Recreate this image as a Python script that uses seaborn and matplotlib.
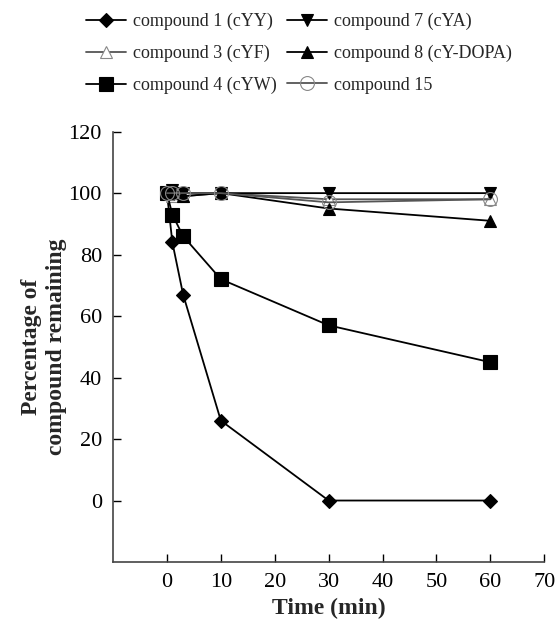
import pandas as pd
import matplotlib.pyplot as plt
import seaborn as sns

# Stability data
time_min = [0, 1, 3, 10, 30, 60]
cpd1_cyy = [100, 84, 67, 26, 0, 0]
cpd3_cyf = [100, 99, 99, 100, 98, 98]
cpd4_cyw = [100, 93, 86, 72, 57, 45]
cpd7_cya = [100, 101, 100, 100, 100, 100]
cpd8_dopa = [100, 100, 99, 100, 95, 91]
cpd15 = [100, 100, 100, 100, 97, 98]

labels = ["compound 1 (cYY)", "compound 3 (cYF)", "compound 4 (cYW)",
          "compound 7 (cYA)", "compound 8 (cY-DOPA)", "compound 15"]
series = [cpd1_cyy, cpd3_cyf, cpd4_cyw, cpd7_cya, cpd8_dopa, cpd15]

# marker, size, face, edge, line colour
styles = [
    ("D", 7, "black", "black", "black"),
    ("^", 8, "white", "#888888", "#555555"),
    ("s", 10, "black", "black", "black"),
    ("v", 9, "black", "black", "black"),
    ("^", 9, "black", "black", "black"),
    ("o", 10, "none", "#888888", "#555555"),
]

sns.set_theme(style="white")
plt.rcParams["font.family"] = ["Liberation Serif", "DejaVu Serif"]

fig = plt.figure(figsize=(5.57, 6.21), dpi=100)
ax = fig.add_axes([0.203, 0.095, 0.774, 0.693])

for lab, vals, (mk, ms, fc, ec, lc) in zip(labels, series, styles):
    df = pd.DataFrame({"t": time_min, "pct": vals})
    sns.lineplot(data=df, x="t", y="pct", ax=ax, label=lab, color=lc,
                 marker=mk, markersize=ms, markerfacecolor=fc,
                 markeredgecolor=ec, markeredgewidth=0.8, linewidth=1.3)

ax.set_xlim(-10, 70)
ax.set_ylim(-20, 120)
ax.set_xticks(range(0, 71, 10))
ax.set_yticks(range(0, 121, 20))
ax.tick_params(direction="in", length=6, width=1, labelsize=16, colors="black",
               left=True, bottom=True, pad=8)
ax.tick_params(axis="x", pad=8)
for s in ["top", "right"]:
    ax.spines[s].set_visible(False)
for s in ["left", "bottom"]:
    ax.spines[s].set_color("#444444")
    ax.spines[s].set_linewidth(1.2)

ax.set_xlabel("Time (min)", fontsize=17, fontweight="bold", labelpad=4)
ax.set_ylabel("Percentage of\ncompound remaining", fontsize=17,
              fontweight="bold", labelpad=1, linespacing=1.25)

ax.legend(loc="upper left", bbox_to_anchor=(0.125, 1.005), bbox_transform=fig.transFigure,
          ncol=2, frameon=False, fontsize=13, handlelength=2.2, labelspacing=0.8,
          columnspacing=0.6, handletextpad=0.4)

fig.savefig("out.png", dpi=100)
